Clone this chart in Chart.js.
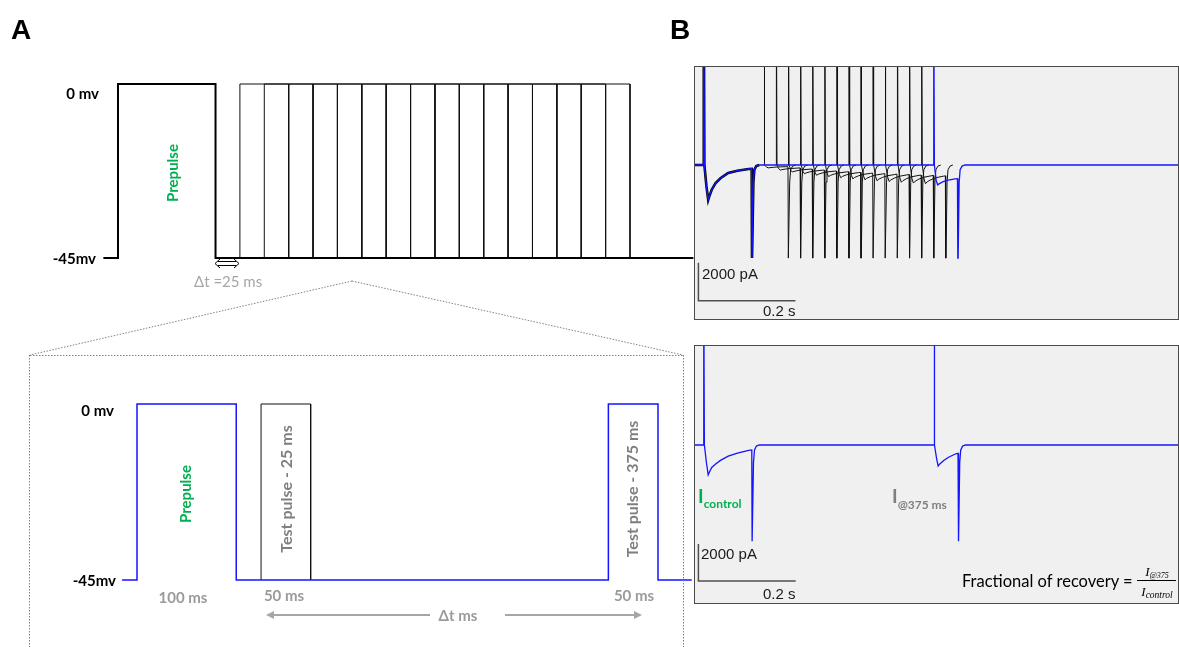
<!DOCTYPE html>
<html>
<head>
<meta charset="utf-8">
<script src="https://cdn.jsdelivr.net/npm/chart.js@4.4.1/dist/chart.umd.min.js"></script>
<style>
body{margin:0;background:#fff;}
#fig{position:relative;width:1179px;height:647px;overflow:hidden;font-family:Lato,"Open Sans",sans-serif;}
canvas{position:absolute;}
.frame{position:absolute;background:#f0f0f0;border:1px solid #4a4a4a;box-sizing:border-box;}
.t{position:absolute;white-space:nowrap;line-height:1;}
.mv{font-weight:bold;font-size:15px;color:#000;transform:translate(-100%,-50%);}
.rot{transform:translate(-50%,-50%) rotate(-90deg);font-weight:bold;font-size:15px;}
.ms{font-weight:bold;font-size:15px;color:#9a9a9a;transform:translate(-50%,-50%);}
.bar{font-family:"Liberation Sans",Arial,sans-serif;font-size:15px;color:#1a1a1a;transform:translateY(-50%);}
.panel{font-family:"Liberation Sans",Arial,sans-serif;font-weight:bold;font-size:28px;}
</style>
</head>
<body>
<div id="fig">
 <div class="frame" style="left:694px;top:66px;width:485px;height:254px"></div>
 <div class="frame" style="left:694px;top:345px;width:485px;height:259px"></div>
 <canvas id="aTop" width="694" height="240" style="left:0;top:60px"></canvas>
 <canvas id="aBot" width="694" height="260" style="left:0;top:380px"></canvas>
 <canvas id="bTop" width="483" height="252" style="left:695px;top:67px"></canvas>
 <canvas id="bBot" width="483" height="257" style="left:695px;top:346px"></canvas>

 <svg width="1179" height="647" style="position:absolute;left:0;top:0;pointer-events:none">
  <g stroke="#808080" stroke-width="1" stroke-dasharray="1.5 1.5" fill="none">
   <line x1="352" y1="281" x2="30" y2="355"/>
   <line x1="352" y1="281" x2="683" y2="355"/>
   <line x1="30" y1="355.5" x2="683" y2="355.5"/>
   <line x1="29.5" y1="355" x2="29.5" y2="647"/>
   <line x1="683.5" y1="355" x2="683.5" y2="647"/>
  </g>
  <g stroke="#000" stroke-width="1" fill="none">
   <line x1="218" y1="261.5" x2="236" y2="261.5"/>
   <line x1="218" y1="265.5" x2="236" y2="265.5"/>
   <polyline points="220,259 215,263.5 220,268"/>
   <polyline points="234,259 239,263.5 234,268"/>
  </g>
  <g stroke="#a6a6a6" stroke-width="2" fill="#a6a6a6">
   <line x1="272" y1="615" x2="430" y2="615"/>
   <line x1="505" y1="615" x2="636" y2="615"/>
   <polygon points="266,615 274,611 274,619" stroke="none"/>
   <polygon points="642,615 634,611 634,619" stroke="none"/>
  </g>
 </svg>

 <div class="t panel" style="left:11px;top:16px">A</div>
 <div class="t panel" style="left:670px;top:16px">B</div>

 <div class="t mv" style="left:99px;top:93px">0 mv</div>
 <div class="t mv" style="left:96px;top:258px">-45mv</div>
 <div class="t rot" style="left:172px;top:173px;color:#00b050">Prepulse</div>
 <div class="t" style="left:194px;top:281px;transform:translateY(-50%);font-size:15px;color:#a6a6a6">Δt =25 ms</div>

 <div class="t mv" style="left:114px;top:410px">0 mv</div>
 <div class="t mv" style="left:116px;top:580px">-45mv</div>
 <div class="t rot" style="left:185px;top:494px;color:#00b050">Prepulse</div>
 <div class="t rot" style="left:286px;top:489px;color:#7f7f7f;font-size:16px">Test pulse - 25 ms</div>
 <div class="t rot" style="left:632px;top:489px;color:#7f7f7f;font-size:16px">Test pulse - 375 ms</div>
 <div class="t ms" style="left:183px;top:597px">100 ms</div>
 <div class="t ms" style="left:284px;top:595px">50 ms</div>
 <div class="t ms" style="left:634px;top:595px">50 ms</div>
 <div class="t ms" style="left:458px;top:615px">Δt ms</div>

 <div class="t bar" style="left:702px;top:273px">2000 pA</div>
 <div class="t bar" style="left:763px;top:310px">0.2 s</div>
 <div class="t bar" style="left:701px;top:553px">2000 pA</div>
 <div class="t bar" style="left:763px;top:593px">0.2 s</div>

 <div class="t" style="left:698px;top:486px;font-weight:bold;font-size:19px;color:#00b050">I<span style="font-size:12px;position:relative;top:5px">control</span></div>
 <div class="t" style="left:892px;top:486px;font-weight:bold;font-size:19px;color:#7f7f7f">I<span style="font-size:12px;position:relative;top:6px">@375 ms</span></div>

 <div class="t" style="left:962px;top:581px;transform:translateY(-50%);font-size:16.5px;color:#000">Fractional of recovery =</div>
 <div class="t" style="left:1157px;top:571px;transform:translate(-50%,-50%);font-family:'Liberation Serif',serif;font-style:italic;font-size:13px">I<span style="font-size:8px;position:relative;top:2px">@375</span></div>
 <div style="position:absolute;left:1137px;top:580px;width:39px;height:1px;background:#000"></div>
 <div class="t" style="left:1157px;top:592px;transform:translate(-50%,-50%);font-family:'Liberation Serif',serif;font-style:italic;font-size:13px">I<span style="font-size:9.5px;position:relative;top:2px">control</span></div>
</div>

<script>
/* ===== protocol (A) ===== */
const protoT = [-15, 0, 0, 100, 100, 590];
const protoV = [-45, -45, 0, 0, -45, -45];
const testDelays = [25, 50, 75, 100, 125, 150, 175, 200, 225, 250, 275, 300, 325, 350, 375];
const pulseRel = [0, 0, 50, 50];
const pulseV = [-45, 0, 0, -45];
const zoomT = [-15, 0, 0, 100, 100, 475, 475, 525, 525, 559];
const zoomV = [-45, -45, 0, 0, -45, -45, 0, 0, -45, -45];
const zoomTestDelay = 25;

/* ===== currents (B), ms / pA ===== */
const preT = [-20, 0, 0.3, 0.8, 1.8, 6, 9.7, 12, 17, 25, 35, 51, 70, 93, 99.5, 100.2, 100.9, 103, 105, 109, 115];
const preTop = [0, 0, 9000, 9000, 0, -1100, -1840, -1650, -1300, -950, -700, -420, -300, -210, -200, -4900, -4900, -900, -250, -60, 0];
const preBot = [0, 0, 9000, 9000, 0, -1000, -1710, -1560, -1280, -1080, -880, -640, -470, -310, -280, -5500, -5500, -1000, -300, -60, 0];

const spikeRel = [0, 0.3, 0.8, 1.8];
const spikeI = [0, 9000, 9000, 0];
const inwardRel = [5.5, 8.5, 12, 20, 30, 45, 49.5];
const inwardTop = [
 [-110, -150, -140, -120, -100, -90, -90],
 [-200, -270, -245, -210, -185, -160, -155],
 [-280, -370, -335, -290, -250, -220, -215],
 [-345, -460, -415, -360, -315, -275, -265],
 [-405, -540, -485, -420, -365, -325, -315],
 [-460, -610, -550, -475, -415, -365, -355],
 [-500, -670, -600, -520, -455, -400, -390],
 [-550, -730, -655, -570, -495, -440, -425],
 [-585, -780, -700, -610, -530, -470, -455],
 [-620, -830, -745, -650, -565, -500, -480],
 [-650, -870, -785, -680, -590, -520, -505],
 [-680, -910, -820, -710, -620, -545, -530],
 [-710, -950, -855, -740, -645, -570, -550],
 [-740, -985, -885, -770, -670, -590, -570],
 [-800, -1050, -980, -880, -800, -730, -720]
];
const inwardBot = [-800, -1200, -1080, -880, -700, -500, -470];
const tailRel = [50.2, 50.9, 53, 55, 59, 65];
const tailTop = [-4900, -4900, -900, -250, -60, 0];
const tailBot = [-5500, -5500, -1000, -300, -60, 0];
const traceEnd = 990;

const barT = [-10.5, -10.5, 190];
const barTop = [-5150, -7150, -7150];
const barBot = [-5660, -7770, -7770];

/* ===== helpers ===== */
const BLUE = "rgb(20,20,255)";

function pts(xs, ys, shift){
 return xs.map((x, i) => ({x: x + (shift || 0), y: ys[i]}));
}

function testTrace(onset, inward, tail){
 return [].concat(pts(spikeRel, spikeI, onset), pts(inwardRel, inward, onset), pts(tailRel, tail, onset));
}

// pixel anchors -> axis min/max for a canvas that starts at `start` and is `size` px long
function range(p0, v0, p1, v1, start, size){
 const k = (v1 - v0) / (p1 - p0);
 const a = v0 + (start - p0) * k, b = v0 + (start + size - p0) * k;
 return {min: Math.min(a, b), max: Math.max(a, b)};
}

function ds(data, color, width){
 return {data, borderColor: color, borderWidth: width, pointRadius: 0, fill: false, tension: 0};
}

function draw(id, xr, yr, datasets){
 new Chart(document.getElementById(id), {
  type: "line",
  data: {datasets},
  options: {
   responsive: false, animation: false, events: [],
   layout: {padding: 0},
   plugins: {legend: {display: false}, tooltip: {enabled: false}},
   scales: {
    x: {type: "linear", display: false, min: xr.min, max: xr.max},
    y: {type: "linear", display: false, min: yr.min, max: yr.max}
   }
  }
 });
}

/* ===== A top ===== */
const aTopSets = [ds(pts(protoT, protoV), "#000", 2)];
testDelays.forEach(d => aTopSets.push(ds(pts(pulseRel, pulseV, 100 + d), "#111", 1)));
draw("aTop", range(118, 0, 630, 525, 0, 694), range(84, 0, 258, -45, 60, 240), aTopSets);

/* ===== A bottom ===== */
draw("aBot", range(137, 0, 658, 525, 0, 694), range(404, 0, 580, -45, 380, 260), [
 ds(pts(zoomT, zoomV), BLUE, 1.5),
 ds(pts(pulseRel, pulseV, 100 + zoomTestDelay), "#111", 1)
]);

/* ===== B top ===== */
const last = testDelays.length - 1;
const blueTop = [].concat(pts(preT, preTop), testTrace(100 + testDelays[last], inwardTop[last], tailTop), [{x: traceEnd, y: 0}]);
const bTopSets = [ds(blueTop, BLUE, 1.3), ds(pts(preT, preTop), "#000", 2.6)];
testDelays.slice(0, last).forEach((d, i) => bTopSets.push(ds(testTrace(100 + d, inwardTop[i], tailTop), "#111", 1)));
bTopSets.push(ds(pts(barT, barTop), "#505050", 1.5));
draw("bTop", range(703.5, 0, 933.5, 475, 695, 483), range(165, 0, 203, -2000, 67, 252), bTopSets);

/* ===== B bottom ===== */
const blueBot = [].concat(pts(preT, preBot), testTrace(100 + testDelays[last], inwardBot, tailBot), [{x: traceEnd, y: 0}]);
draw("bBot", range(703.5, 0, 934, 475, 695, 483), range(445, 0, 480, -2000, 346, 257), [
 ds(blueBot, BLUE, 1.3),
 ds(pts(barT, barBot), "#505050", 1.5)
]);
</script>
</body>
</html>
